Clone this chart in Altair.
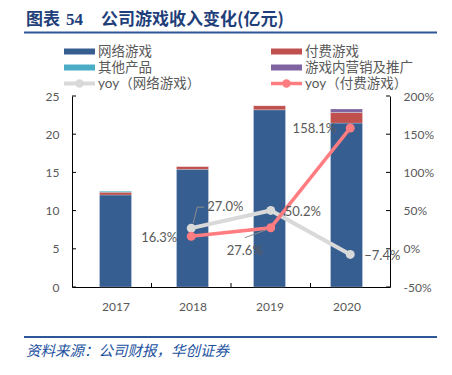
import altair as alt
import pandas as pd

# ---------------- data ----------------
years = [2017, 2018, 2019, 2020]
online_game = [12.05, 15.4, 23.2, 21.45]
paid_game = [0.35, 0.4, 0.55, 1.4]
other_products = [0.15, 0.0, 0.0, 0.0]
marketing = [0.0, 0.0, 0.0, 0.45]
yoy_online = [None, 27.0, 50.2, -7.4]
yoy_paid = [None, 16.3, 27.6, 158.1]

bar_names = ["网络游戏", "付费游戏", "其他产品", "游戏内营销及推广"]
line_names = ["yoy（网络游戏）", "yoy（付费游戏）"]
left_ticks = [0, 5, 10, 15, 20, 25]
right_ticks = [-50, 0, 50, 100, 150, 200]
band_edges = [2017.5, 2018.5, 2019.5]

title_parts = ["图表", "54", "公司游戏收入变化(亿元)"]
source_text = "资料来源：公司财报，华创证券"

# ---------------- styles ----------------
bar_colors = ["#375E91", "#C0504D", "#4BACC6", "#8064A2"]
line_colors = ["#D9D9D9", "#FF7C80"]
W, H = 318, 191
FONT = 'Lato, "Noto Sans CJK SC", sans-serif'
CJK = '"Noto Sans CJK SC", sans-serif'
TXT = "#595959"
NAVY = "#1F3F7A"
RULE = "#2E5797"

# ---------------- tables ----------------
bar_rows = []
for i, (name, vals) in enumerate(zip(bar_names, [online_game, paid_game, other_products, marketing])):
    for y, v in zip(years, vals):
        bar_rows.append({"year": y, "series": name, "value": v, "idx": i})
bar_df = pd.DataFrame(bar_rows)

line_rows = []
for name, vals in zip(line_names, [yoy_online, yoy_paid]):
    for y, v in zip(years, vals):
        if v is not None:
            line_rows.append({"year": y, "series": name, "value": v})
line_df = pd.DataFrame(line_rows)

def xs():
    return alt.Scale(domain=[2016.5, 2020.5], nice=False, zero=False)

def ls():
    return alt.Scale(domain=[0, 25], nice=False, zero=False)

def rs():
    return alt.Scale(domain=[-50, 200], nice=False, zero=False)

layers = []

# ---------------- bars (left axis) ----------------
bars = alt.Chart(bar_df).mark_bar(size=32, stroke="white", strokeWidth=0.4, strokeOpacity=0.6).encode(
    x=alt.X("year:Q", scale=xs(),
            axis=alt.Axis(values=years, format="d", title=None, ticks=False,
                          grid=False, domainColor="black",
                          labelFont=FONT, labelFontSize=12, labelColor=TXT, labelPadding=14)),
    y=alt.Y("value:Q", stack="zero", scale=ls(),
            axis=alt.Axis(orient="left", values=left_ticks, title=None, ticks=False,
                          grid=False, domainColor="black",
                          labelFont=FONT, labelFontSize=12, labelColor=TXT, labelPadding=13)),
    color=alt.Color("series:N", scale=alt.Scale(domain=bar_names, range=bar_colors), legend=None),
    order=alt.Order("idx:Q", sort="ascending"),
)
layers.append(bars)

layers.append(alt.Chart(pd.DataFrame({"v": left_ticks})).mark_rule(color="black", strokeWidth=1).encode(
    y=alt.Y("v:Q", scale=ls(), axis=None), x=alt.value(0), x2=alt.value(4)))

layers.append(alt.Chart(pd.DataFrame({"b": band_edges})).mark_rule(color="black", strokeWidth=1).encode(
    x=alt.X("b:Q", scale=xs(), axis=None), y=alt.value(H - 4), y2=alt.value(H)))

# ---------------- yoy lines (right axis) ----------------
for k, (name, col) in enumerate(zip(line_names, line_colors)):
    base = alt.Chart(line_df).transform_filter(alt.datum.series == name)
    yaxis = (alt.Axis(orient="right", values=right_ticks, title=None, ticks=False,
                      grid=False, domainColor="black",
                      labelExpr="datum.value + '%'",
                      labelFont=FONT, labelFontSize=12, labelColor=TXT, labelPadding=13)
             if k == 0 else None)
    layers.append(base.mark_line(color=col, strokeWidth=4 if k == 0 else 3.5).encode(
        x=alt.X("year:Q", scale=xs(), axis=None),
        y=alt.Y("value:Q", scale=rs(), axis=yaxis)))
    layers.append(base.mark_circle(color=col, size=80, opacity=1).encode(
        x=alt.X("year:Q", scale=xs(), axis=None),
        y=alt.Y("value:Q", scale=rs(), axis=None)))

layers.append(alt.Chart(pd.DataFrame({"v": right_ticks})).mark_rule(color="black", strokeWidth=1).encode(
    y=alt.Y("v:Q", scale=rs(), axis=None), x=alt.value(W - 4), x2=alt.value(W)))

# data labels: (series index, year) -> (align, dx, dy)
label_style = {
    (0, 2018): ("left", 16, -21),
    (0, 2019): ("left", 14, 2),
    (0, 2020): ("left", 14, 2),
    (1, 2018): ("right", -14, 2),
    (1, 2019): ("center", -26, 23),
    (1, 2020): ("right", -14, 1),
}
for (k, yr), (al, dx, dy) in label_style.items():
    layers.append(
        alt.Chart(line_df).transform_filter(
            (alt.datum.series == line_names[k]) & (alt.datum.year == yr)
        ).transform_calculate(
            label="format(datum.value, '.1f') + '%'"
        ).mark_text(align=al, baseline="middle", dx=dx, dy=dy, font=FONT, fontSize=13, color=TXT).encode(
            x=alt.X("year:Q", scale=xs(), axis=None),
            y=alt.Y("value:Q", scale=rs(), axis=None),
            text="label:N"))

# leader lines: (series index, year) -> list of (x0, y0, x1, y1) offsets
leaders = {
    (0, 2018): [(2, -5, 6, -21), (6, -21, 13, -21)],
    (1, 2019): [(-4, 2, -26, 10)],
}
for (k, yr), segs in leaders.items():
    for (x0, y0, x1, y1) in segs:
        layers.append(
            alt.Chart(line_df).transform_filter(
                (alt.datum.series == line_names[k]) & (alt.datum.year == yr)
            ).mark_rule(color="#8C8C8C", strokeWidth=1, xOffset=x0, yOffset=y0,
                        x2Offset=x1, y2Offset=y1).encode(
                x=alt.X("year:Q", scale=xs(), axis=None),
                y=alt.Y("value:Q", scale=rs(), axis=None),
                x2="year:Q", y2="value:Q"))

# ---------------- annotations (title, legend, source) ----------------
def one(text):
    return alt.Chart(pd.DataFrame({"t": [text]}))

title_x = [-46, -6, 29]
title_fonts = [CJK, '"Liberation Serif", serif', CJK]
for t, xx, ff in zip(title_parts, title_x, title_fonts):
    layers.append(one(t).mark_text(align="left", baseline="middle", font=ff, fontSize=17,
                                   fontWeight="bold", color=NAVY).encode(
        x=alt.value(xx), y=alt.value(-76), text="t:N"))
layers.append(one("r").mark_rule(color=RULE, strokeWidth=2).encode(
    x=alt.value(-48), x2=alt.value(365), y=alt.value(-63.5)))
layers.append(one("r").mark_rule(color=RULE, strokeWidth=2).encode(
    x=alt.value(-48), x2=alt.value(365), y=alt.value(241)))
layers.append(one(source_text).mark_text(align="left", baseline="middle", font=CJK, fontSize=14.5,
                                         fontStyle="italic", color="#2251A0").encode(
    x=alt.value(-46), y=alt.value(256), text="t:N"))

legend_items = [
    (bar_names[0], bar_colors[0], "bar"), (bar_names[1], bar_colors[1], "bar"),
    (bar_names[2], bar_colors[2], "bar"), (bar_names[3], bar_colors[3], "bar"),
    (line_names[0], line_colors[0], "line"), (line_names[1], line_colors[1], "line"),
]
col_x = [-8, 199]
row_y = [-44.5, -28.5, -12.5]
for i, (name, col, kind) in enumerate(legend_items):
    cx = col_x[i % 2]
    ry = row_y[i // 2]
    if kind == "bar":
        layers.append(one(name).mark_rect(color=col).encode(
            x=alt.value(cx), x2=alt.value(cx + 31), y=alt.value(ry - 3), y2=alt.value(ry + 3)))
    else:
        layers.append(one(name).mark_rule(color=col, strokeWidth=4 if i == 4 else 3.5).encode(
            x=alt.value(cx), x2=alt.value(cx + 31), y=alt.value(ry)))
        layers.append(one(name).mark_circle(color=col, size=70, opacity=1).encode(
            x=alt.value(cx + 15.5), y=alt.value(ry)))
    layers.append(one(name).mark_text(align="left", baseline="middle", font=FONT, fontSize=13.5,
                                      color=TXT).encode(
        x=alt.value(cx + 34), y=alt.value(ry), text="t:N"))

chart = alt.layer(*layers).resolve_scale(x="independent", y="independent").properties(
    width=W, height=H,
    background="white",
    autosize=alt.AutoSizeParams(type="none"),
    padding={"left": 72, "top": 96, "right": 62, "bottom": 88},
).configure_view(stroke=None)

chart.save("out.html", embed_options={"renderer": "svg", "actions": False})
